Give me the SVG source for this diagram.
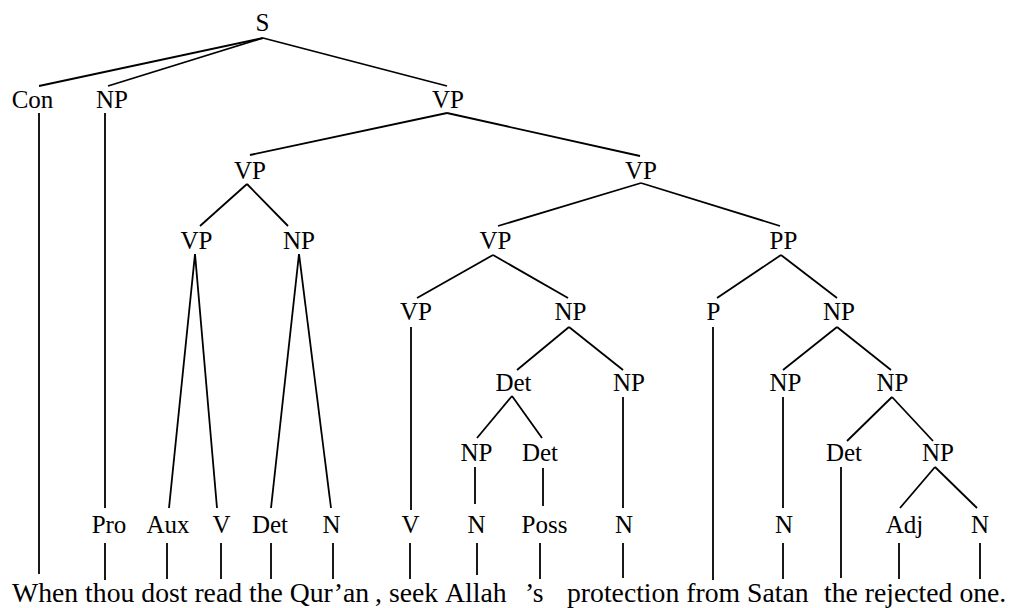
<svg xmlns="http://www.w3.org/2000/svg" width="1015" height="608" viewBox="0 0 1015 608">
<rect width="1015" height="608" fill="#fff"/>
<g id="connectors" stroke="#000" stroke-width="1.8">
<line x1="263" y1="38" x2="39" y2="86"/>
<line x1="263" y1="38" x2="108" y2="86"/>
<line x1="263" y1="38" x2="447" y2="86"/>
<line x1="39" y1="113" x2="39" y2="574"/>
<line x1="105" y1="113" x2="105" y2="508"/>
<line x1="447" y1="113" x2="250" y2="155"/>
<line x1="447" y1="113" x2="640" y2="156"/>
<line x1="247" y1="184" x2="200" y2="226"/>
<line x1="247" y1="184" x2="288" y2="226"/>
<line x1="641" y1="183" x2="498" y2="226"/>
<line x1="641" y1="183" x2="780" y2="226"/>
<line x1="195" y1="254" x2="169" y2="508"/>
<line x1="195" y1="254" x2="217" y2="508"/>
<line x1="299" y1="254" x2="271" y2="508"/>
<line x1="299" y1="254" x2="331" y2="508"/>
<line x1="493" y1="255" x2="417" y2="298"/>
<line x1="493" y1="255" x2="568" y2="298"/>
<line x1="781" y1="255" x2="717" y2="298"/>
<line x1="781" y1="255" x2="837" y2="298"/>
<line x1="411" y1="327" x2="411" y2="510"/>
<line x1="569" y1="327" x2="517" y2="370"/>
<line x1="569" y1="327" x2="623" y2="370"/>
<line x1="713" y1="327" x2="713" y2="580"/>
<line x1="837" y1="327" x2="783" y2="370"/>
<line x1="837" y1="327" x2="891" y2="370"/>
<line x1="512" y1="396" x2="477" y2="438"/>
<line x1="512" y1="396" x2="542" y2="438"/>
<line x1="623" y1="397" x2="623" y2="508"/>
<line x1="783" y1="397" x2="783" y2="508"/>
<line x1="892" y1="397" x2="847" y2="441"/>
<line x1="892" y1="397" x2="933" y2="441"/>
<line x1="475" y1="467" x2="475" y2="504"/>
<line x1="543" y1="468" x2="543" y2="506"/>
<line x1="841" y1="467" x2="841" y2="578"/>
<line x1="935" y1="467" x2="900" y2="508"/>
<line x1="935" y1="467" x2="977" y2="508"/>
<line x1="105" y1="543" x2="105" y2="580"/>
<line x1="167" y1="543" x2="167" y2="579"/>
<line x1="221" y1="543" x2="221" y2="579"/>
<line x1="271" y1="543" x2="271" y2="579"/>
<line x1="333" y1="543" x2="333" y2="579"/>
<line x1="410" y1="543" x2="410" y2="579"/>
<line x1="477" y1="543" x2="477" y2="575"/>
<line x1="540" y1="543" x2="540" y2="579"/>
<line x1="623" y1="543" x2="623" y2="578"/>
<line x1="783" y1="543" x2="783" y2="579"/>
<line x1="899" y1="543" x2="899" y2="579"/>
<line x1="980" y1="543" x2="980" y2="579"/>
</g>
<g font-size="25" text-anchor="middle">
<g id="n-S"><text font-family="Liberation Serif" x="262.5" y="31">S</text></g>
<g id="n-Con"><text font-family="Liberation Serif" x="32.5" y="108">Con</text></g>
<g id="n-NP1"><text font-family="Liberation Serif" x="112" y="108">NP</text></g>
<g id="n-VP1"><text font-family="Liberation Serif" x="448" y="108">VP</text></g>
<g id="n-VP2"><text font-family="Liberation Serif" x="250" y="179">VP</text></g>
<g id="n-VP3"><text font-family="Liberation Serif" x="641" y="179">VP</text></g>
<g id="n-VP4"><text font-family="Liberation Serif" x="196.5" y="249">VP</text></g>
<g id="n-NP2"><text font-family="Liberation Serif" x="299" y="249">NP</text></g>
<g id="n-VP5"><text font-family="Liberation Serif" x="495.5" y="249">VP</text></g>
<g id="n-PP"><text font-family="Liberation Serif" x="783.5" y="249">PP</text></g>
<g id="n-VP6"><text font-family="Liberation Serif" x="416" y="320">VP</text></g>
<g id="n-NP3"><text font-family="Liberation Serif" x="570.5" y="320">NP</text></g>
<g id="n-P"><text font-family="Liberation Serif" x="713.5" y="320">P</text></g>
<g id="n-NP4"><text font-family="Liberation Serif" x="839" y="320">NP</text></g>
<g id="n-Det1"><text font-family="Liberation Serif" x="513.5" y="391">Det</text></g>
<g id="n-NP5"><text font-family="Liberation Serif" x="629" y="391">NP</text></g>
<g id="n-NP6"><text font-family="Liberation Serif" x="785.5" y="391">NP</text></g>
<g id="n-NP7"><text font-family="Liberation Serif" x="892.5" y="391">NP</text></g>
<g id="n-NP8"><text font-family="Liberation Serif" x="476.5" y="461">NP</text></g>
<g id="n-Det2"><text font-family="Liberation Serif" x="540" y="461">Det</text></g>
<g id="n-Det3"><text font-family="Liberation Serif" x="844" y="461">Det</text></g>
<g id="n-NP9"><text font-family="Liberation Serif" x="938" y="461">NP</text></g>
<g id="n-Pro"><text font-family="Liberation Serif" x="109" y="533">Pro</text></g>
<g id="n-Aux"><text font-family="Liberation Serif" x="168" y="533">Aux</text></g>
<g id="n-V1"><text font-family="Liberation Serif" x="221.5" y="533">V</text></g>
<g id="n-Det4"><text font-family="Liberation Serif" x="270" y="533">Det</text></g>
<g id="n-N1"><text font-family="Liberation Serif" x="331.5" y="533">N</text></g>
<g id="n-V2"><text font-family="Liberation Serif" x="410.5" y="533">V</text></g>
<g id="n-N2"><text font-family="Liberation Serif" x="476.5" y="533">N</text></g>
<g id="n-Poss"><text font-family="Liberation Serif" x="544.5" y="533">Poss</text></g>
<g id="n-N3"><text font-family="Liberation Serif" x="624" y="533">N</text></g>
<g id="n-N4"><text font-family="Liberation Serif" x="784" y="533">N</text></g>
<g id="n-Adj"><text font-family="Liberation Serif" x="904.5" y="533">Adj</text></g>
<g id="n-N5"><text font-family="Liberation Serif" x="980" y="533">N</text></g>
</g>
<g font-size="27.7">
<g id="w-When"><text font-family="Liberation Serif" x="12" y="602">When</text></g>
<g id="w-thou"><text font-family="Liberation Serif" x="85.1" y="602">thou</text></g>
<g id="w-dost"><text font-family="Liberation Serif" x="141.3" y="602">dost</text></g>
<g id="w-read"><text font-family="Liberation Serif" x="194.4" y="602">read</text></g>
<g id="w-the1"><text font-family="Liberation Serif" x="249" y="602">the</text></g>
<g id="w-Quran"><text font-family="Liberation Serif" x="289.7" y="602">Qur’an</text></g>
<g id="w-comma"><text font-family="Liberation Serif" x="375.1" y="602">,</text></g>
<g id="w-seek"><text font-family="Liberation Serif" x="388.9" y="602">seek</text></g>
<g id="w-Allah"><text font-family="Liberation Serif" x="445.1" y="602">Allah</text></g>
<g id="w-s"><text font-family="Liberation Serif" x="525" y="602">’s</text></g>
<g id="w-protection"><text font-family="Liberation Serif" x="567" y="602">protection</text></g>
<g id="w-from"><text font-family="Liberation Serif" x="686.3" y="602">from</text></g>
<g id="w-Satan"><text font-family="Liberation Serif" x="747" y="602">Satan</text></g>
<g id="w-the2"><text font-family="Liberation Serif" x="824" y="602">the</text></g>
<g id="w-rejected"><text font-family="Liberation Serif" x="864.8" y="602">rejected</text></g>
<g id="w-one"><text font-family="Liberation Serif" x="959.4" y="602">one.</text></g>
</g>
</svg>
